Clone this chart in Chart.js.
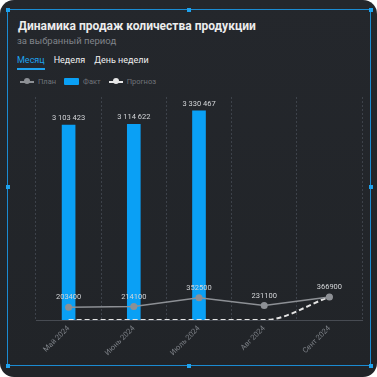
<!DOCTYPE html>
<html lang="ru">
<head>
<meta charset="utf-8">
<script src="https://cdn.jsdelivr.net/npm/chart.js@4/dist/chart.umd.min.js"></script>
<style>
    html, body { margin: 0; padding: 0; background: #ffffff; }
    .panel {
        position: relative;
        width: 377px;
        height: 377px;
        border-radius: 14px;
        background: linear-gradient(180deg, #24272c 0%, #212428 100%);
        overflow: hidden;
        font-family: Roboto, "Noto Sans", sans-serif;
    }
    .frame {
        position: absolute;
        left: 7px; top: 9px;
        width: 362px; height: 355px;
        border: 1.5px solid #1b8bd2;
    }
    .handle {
        position: absolute;
        width: 4px; height: 4px;
        background: #1ea2ee;
    }
    .title {
        position: absolute; left: 18px; top: 19px;
        color: #ececec; font-size: 12px; font-weight: 700;
    }
    .subtitle {
        position: absolute; left: 17px; top: 35px;
        color: #80848a; font-size: 9.5px;
    }
    .tabs {
        position: absolute; left: 17px; top: 55px;
        font-size: 9px; color: #f0f0f0;
    }
    .tabs span { margin-right: 9px; display: inline-block; padding-bottom: 3px; }
    .tabs .active { color: #1ea2ee; border-bottom: 2px solid #1ea2ee; }
    .legend {
        position: absolute; left: 20px; top: 77px;
        font-size: 7.5px; color: #70747a;
        display: flex; align-items: center;
    }
    .legend .item { display: flex; align-items: center; margin-right: 8px; }
    .legend .line { position: relative; width: 14px; height: 2px; margin-right: 4px; }
    .legend .line i { position: absolute; left: 4px; top: -2.5px; width: 6px; height: 6px; border-radius: 50%; }
    .legend .box { width: 15px; height: 7px; background: #0aa0f5; margin-right: 4px; border-radius: 1px; }
    #chart { position: absolute; left: 0; top: 88px; }
</style>
</head>
<body>
<div class="panel">
    <div class="title">Динамика продаж количества продукции</div>
    <div class="subtitle">за выбранный период</div>
    <div class="tabs"><span class="active">Месяц</span><span>Неделя</span><span>День недели</span></div>
    <div class="legend">
        <div class="item"><div class="line" style="background:#8d9095"><i style="background:#8d9095"></i></div>План</div>
        <div class="item"><div class="box"></div>Факт</div>
        <div class="item"><div class="line" style="background:#e6e6e6"><i style="background:#e6e6e6"></i></div>Прогноз</div>
    </div>
    <canvas id="chart" width="377" height="272"></canvas>
    <div class="frame"></div>
    <div class="handle" style="left:6px;top:8px"></div>
    <div class="handle" style="left:187px;top:8px"></div>
    <div class="handle" style="left:369px;top:8px"></div>
    <div class="handle" style="left:6px;top:185px"></div>
    <div class="handle" style="left:369px;top:185px"></div>
    <div class="handle" style="left:6px;top:364px"></div>
    <div class="handle" style="left:187px;top:364px"></div>
    <div class="handle" style="left:369px;top:364px"></div>
</div>

<script>
// chart data
const months = ['Май 2024', 'Июнь 2024', 'Июль 2024', 'Авг 2024', 'Сент 2024'];
const fact = [3103423, 3114622, 3330467, null, null];
const plan = [203400, 214100, 352500, 231100, 366900];
const forecast = [0, 0, 0, 0, 366900];

// labels above bars and plan points
const valueLabels = {
    id: 'valueLabels',
    afterDatasetsDraw(chart) {
        const ctx = chart.ctx;
        ctx.save();
        ctx.font = '7.5px Roboto';
        ctx.fillStyle = '#d4d6d9';
        ctx.textAlign = 'center';
        ctx.textBaseline = 'bottom';
        chart.getDatasetMeta(2).data.forEach((bar, i) => {
            if (fact[i] == null) return;
            const txt = fact[i].toString().replace(/\B(?=(\d{3})+(?!\d))/g, ' ');
            ctx.fillText(txt, bar.x, bar.y - 3);
        });
        chart.getDatasetMeta(0).data.forEach((pt, i) => {
            ctx.fillText(plan[i].toString(), pt.x, pt.y - 6);
        });
        ctx.restore();
    }
};

const ctx = document.getElementById('chart').getContext('2d');
new Chart(ctx, {
    type: 'bar',
    data: {
        labels: months,
        datasets: [
            {
                type: 'line',
                label: 'План',
                data: plan,
                borderColor: '#8d9095',
                backgroundColor: '#8d9095',
                borderWidth: 1.5,
                pointRadius: 3.5,
                pointBorderWidth: 0,
                order: 0
            },
            {
                type: 'line',
                label: 'Прогноз',
                data: forecast,
                borderColor: '#e4e4e4',
                backgroundColor: '#f4f4f4',
                borderWidth: 2,
                borderDash: [5, 3],
                cubicInterpolationMode: 'monotone',
                pointRadius: [0, 0, 0, 0, 3],
                pointBorderWidth: 0,
                order: 0
            },
            {
                label: 'Факт',
                data: fact,
                backgroundColor: '#0aa0f5',
                barThickness: 13,
                order: 1
            }
        ]
    },
    options: {
        responsive: false,
        animation: false,
        layout: { padding: { left: 36, right: 15, top: 9, bottom: 0 } },
        plugins: {
            legend: { display: false },
            tooltip: { enabled: false }
        },
        scales: {
            x: {
                offset: true,
                grid: {
                    offset: true,
                    color: '#3d424a',
                    drawTicks: false
                },
                border: { display: true, color: '#474b52', dash: [2, 2] },
                ticks: {
                    color: '#7d8187',
                    font: { size: 7.5, family: 'Roboto' },
                    minRotation: 45,
                    maxRotation: 45,
                    padding: 4
                },
                afterFit(axis) { axis.height = 40; }
            },
            y: {
                display: false,
                min: 0,
                max: 3550000
            }
        }
    },
    plugins: [valueLabels]
});
</script>
</body>
</html>
